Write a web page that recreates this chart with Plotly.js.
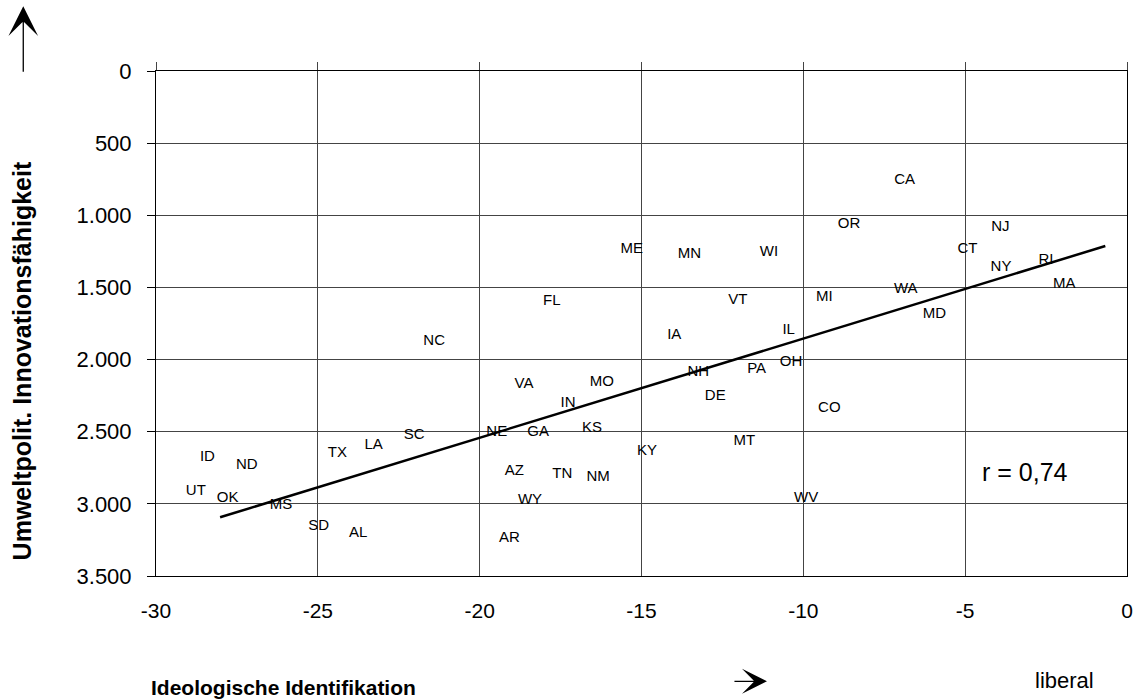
<!DOCTYPE html>
<html>
<head>
<meta charset="utf-8">
<script src="https://cdn.plot.ly/plotly-3.0.1.min.js"></script>
<style>html,body{margin:0;padding:0;background:#fff;}#chart{width:1136px;height:699px;}</style>
</head>
<body>
<div id="chart"></div>
<script>
// State abbreviations
const states = ["CA","OR","NJ","ME","MN","WI","CT","NY","RI","MA",
                "FL","VT","MI","WA","MD","IL","IA","NC","OH","PA",
                "NH","VA","MO","DE","IN","CO","KS","SC","NE","GA",
                "MT","LA","TX","KY","ID","ND","AZ","TN","NM","UT",
                "OK","WY","MS","WV","SD","AL","AR"];
// Ideologische Identifikation (x)
const ideology = [-6.21,-7.90,-3.29,-14.61,-12.82,-10.44,-4.28,-3.23,-1.93,-1.25,
                  -17.16,-11.39,-8.75,-6.13,-5.25,-9.92,-13.43,-20.73,-9.69,-10.81,
                  -12.57,-18.00,-15.51,-12.06,-16.70,-8.51,-15.88,-21.36,-18.81,-17.52,
                  -11.15,-22.65,-23.76,-14.18,-27.84,-26.52,-18.29,-16.80,-15.64,-28.12,
                  -27.11,-17.73,-25.45,-9.20,-24.31,-23.13,-18.42];
// Umweltpolit. Innovationsfähigkeit (y, Rang)
const innovation = [756,1063,1086,1234,1271,1253,1237,1357,1310,1479,
                    1595,1590,1567,1516,1687,1798,1833,1870,2020,2068,
                    2085,2172,2154,2256,2304,2339,2473,2523,2507,2507,
                    2565,2595,2651,2632,2678,2731,2771,2792,2819,2916,
                    2963,2976,3013,2963,3152,3207,3235];
// Regression line end points
const fitX = [-28.02, -0.67];
const fitY = [3093, 1213];
// Axis ticks
const xTickVals = [-30,-25,-20,-15,-10,-5,0];
const xTickText = ["-30","-25","-20","-15","-10","-5","0"];
const yTickVals = [0,500,1000,1500,2000,2500,3000,3500];
const yTickText = ["0","500","1.000","1.500","2.000","2.500","3.000","3.500"];
const rText = "r = 0,74";
const rPos = [-3.15, 2779];

const FONT = "Liberation Sans, Arial, sans-serif";

const traces = [
  {
    type: "scatter", mode: "markers+text",
    x: ideology, y: innovation, text: states,
    textposition: "middle left",
    textfont: {family: FONT, size: 15, color: "#000"},
    marker: {size: 16, color: "rgba(0,0,0,0)"},
    hoverinfo: "none", cliponaxis: false, showlegend: false
  },
  {
    type: "scatter", mode: "lines",
    x: fitX, y: fitY,
    line: {color: "#000", width: 2.5},
    hoverinfo: "none", showlegend: false
  },
  {
    type: "scatter", mode: "lines", x: [], y: [], xaxis: "x2",
    hoverinfo: "none", showlegend: false
  }
];

const layout = {
  width: 1136, height: 699,
  margin: {l: 156, r: 9, t: 71, b: 123},
  paper_bgcolor: "#fff", plot_bgcolor: "#fff",
  font: {family: FONT, color: "#000"},
  showlegend: false,
  xaxis: {
    range: [-30, 0], tickvals: xTickVals, ticktext: xTickText,
    showgrid: true, gridcolor: "#444", gridwidth: 1,
    zeroline: false, showline: true, linecolor: "#000", linewidth: 1, mirror: true,
    ticks: "", tickfont: {family: FONT, size: 21, color: "#000"},
    ticklabelstandoff: 16, fixedrange: true
  },
  xaxis2: {
    overlaying: "x", side: "top", anchor: "y",
    range: [-30, 0], tickvals: xTickVals,
    showticklabels: false, ticks: "outside", ticklen: 8, tickcolor: "#444", tickwidth: 1,
    showgrid: false, zeroline: false, showline: false
  },
  yaxis: {
    range: [3500, 0], tickvals: yTickVals, ticktext: yTickText,
    showgrid: true, gridcolor: "#444", gridwidth: 1,
    zeroline: false, showline: true, linecolor: "#000", linewidth: 1, mirror: true,
    ticks: "outside", ticklen: 8, tickcolor: "#000", tickwidth: 1,
    tickfont: {family: FONT, size: 22, color: "#000"},
    ticklabelstandoff: 11, fixedrange: true
  },
  annotations: [
    {text: rText, x: rPos[0], y: rPos[1], xref: "x", yref: "y",
     showarrow: false, font: {family: FONT, size: 25, color: "#000"},
     xanchor: "center", yanchor: "middle"},
    {text: "<b>Umweltpolit. Innovationsfähigkeit</b>", xref: "paper", yref: "paper",
     x: -0.138, y: 0.425, textangle: -90, showarrow: false,
     font: {family: FONT, size: 25, color: "#000"}, xanchor: "center", yanchor: "middle"},
    {text: "<b>Ideologische Identifikation</b>", xref: "paper", yref: "paper",
     x: 0.1308, y: -0.2204, showarrow: false,
     font: {family: FONT, size: 21, color: "#000"}, xanchor: "center", yanchor: "middle"},
    {text: "liberal", xref: "paper", yref: "paper",
     x: 0.936, y: -0.2065, showarrow: false,
     font: {family: FONT, size: 22, color: "#000"}, xanchor: "center", yanchor: "middle"},
    {text: "", xref: "paper", yref: "paper", x: -0.1367, y: 1.128,
     showarrow: true, axref: "pixel", ayref: "pixel", ax: 0, ay: 67,
     arrowhead: 3, arrowsize: 3.8, arrowwidth: 1.3, arrowcolor: "#000", standoff: 0},
    {text: "", xref: "paper", yref: "paper", x: 0.6292, y: -0.2085,
     showarrow: true, axref: "pixel", ayref: "pixel", ax: -34, ay: 0,
     arrowhead: 3, arrowsize: 3.2, arrowwidth: 1.3, arrowcolor: "#000", standoff: 0}
  ]
};

Plotly.newPlot("chart", traces, layout, {displayModeBar: false, staticPlot: true});
</script>
</body>
</html>
